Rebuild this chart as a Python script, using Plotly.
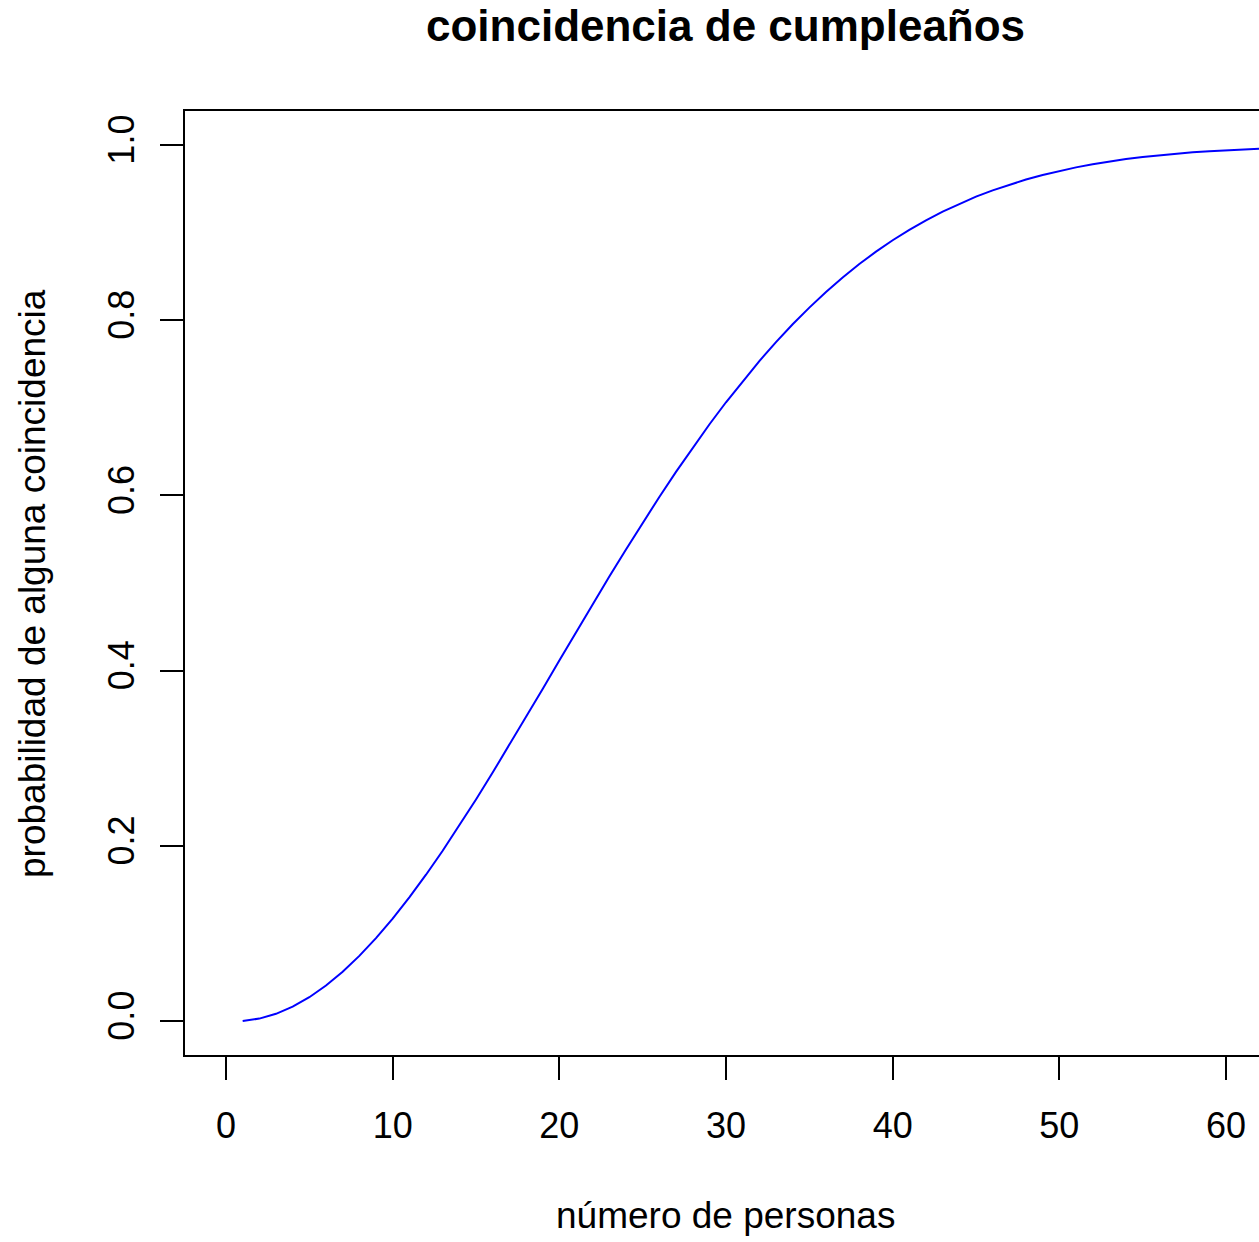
import plotly.graph_objects as go

personas = list(range(1, 64))
probabilidad = [
    0.00000, 0.00274, 0.00820, 0.01636, 0.02714, 0.04046, 0.05624, 0.07434, 0.09462, 0.11695,
    0.14114, 0.16702, 0.19441, 0.22310, 0.25290, 0.28360, 0.31501, 0.34691, 0.37912, 0.41144,
    0.44369, 0.47570, 0.50730, 0.53834, 0.56870, 0.59824, 0.62686, 0.65446, 0.68097, 0.70632,
    0.73045, 0.75335, 0.77497, 0.79532, 0.81438, 0.83218, 0.84873, 0.86407, 0.87822, 0.89123,
    0.90315, 0.91403, 0.92392, 0.93289, 0.94098, 0.94825, 0.95477, 0.96060, 0.96578, 0.97037,
    0.97443, 0.97800, 0.98114, 0.98388, 0.98626, 0.98833, 0.99012, 0.99166, 0.99299, 0.99412,
    0.99508, 0.99590, 0.99659,
]
x_ticks = [0, 10, 20, 30, 40, 50, 60]
y_ticks = [0.0, 0.2, 0.4, 0.6, 0.8, 1.0]

FONT = "Liberation Sans, Arial, sans-serif"

fig = go.Figure()
fig.add_trace(go.Scatter(x=personas, y=probabilidad, mode="lines",
                         line=dict(color="#0000ff", width=2), hoverinfo="skip"))

fig.update_layout(
    width=1259, height=1242,
    margin=dict(l=185, r=0, t=111, b=187),
    paper_bgcolor="white", plot_bgcolor="white",
    showlegend=False,
    font=dict(family=FONT, size=36, color="black"),
)
fig.update_xaxes(
    range=[-2.46, 61.98], tickvals=x_ticks, ticktext=[str(v) for v in x_ticks],
    showgrid=False, zeroline=False, showline=True, linecolor="black", linewidth=2,
    mirror=True, ticks="outside", ticklen=23, tickwidth=2, tickcolor="black",
    ticklabelstandoff=15,
    tickfont=dict(family=FONT, size=36, color="black"),
)
fig.update_yaxes(
    range=[-0.0388, 1.0388], tickvals=y_ticks, ticktext=[f"{v:.1f}" for v in y_ticks],
    showgrid=False, zeroline=False, showline=True, linecolor="black", linewidth=2,
    ticks="outside", ticklen=23, tickwidth=2, tickcolor="black", tickangle=-90,
    ticklabelstandoff=12,
    tickfont=dict(family=FONT, size=36, color="black"),
)
fig.add_annotation(text="<b>coincidencia de cumpleaños</b>", xref="paper", yref="paper",
                   x=0.5037, y=(1055 - 0) / 944, xanchor="center", yanchor="top",
                   borderpad=0,
                   showarrow=False, font=dict(family=FONT, size=44, color="black"))
fig.add_annotation(text="número de personas", xref="paper", yref="paper",
                   x=0.5037, y=(1055 - 1215) / 944, xanchor="center", yanchor="middle",
                   showarrow=False, font=dict(family=FONT, size=37, color="black"))
fig.add_annotation(text="probabilidad de alguna coincidencia", xref="paper", yref="paper",
                   x=(32 - 185) / 1074, y=(1055 - 584) / 944, xanchor="center", yanchor="middle",
                   textangle=-90, showarrow=False, font=dict(family=FONT, size=37, color="black"))

fig.write_html("out.html", config={"displayModeBar": False},
               post_script="document.body.style.margin='0';document.body.style.overflow='hidden';")
